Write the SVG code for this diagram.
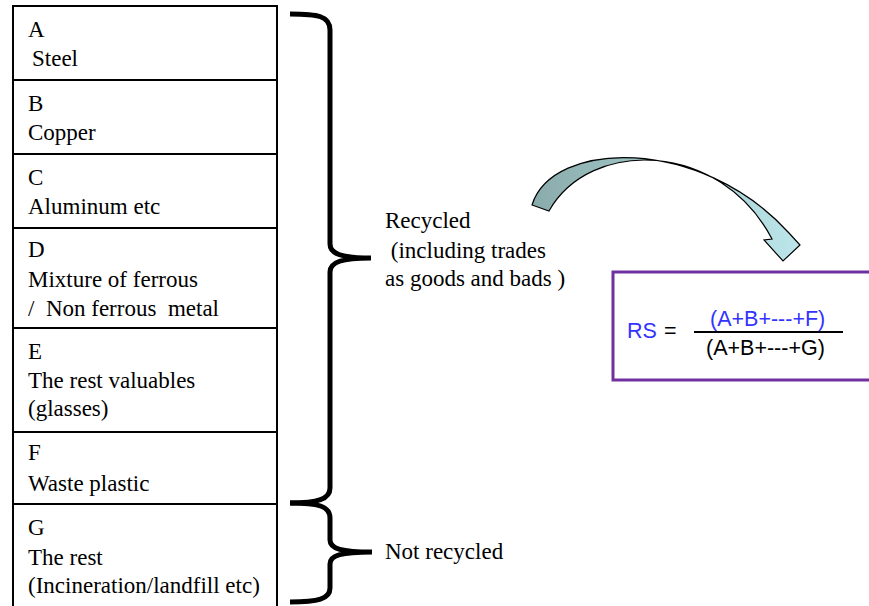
<svg xmlns="http://www.w3.org/2000/svg" width="869" height="606" viewBox="0 0 869 606">
<style>
.t{font-family:"Liberation Serif","Times New Roman",serif;font-size:23px;fill:#000;white-space:pre}
.f{font-family:"Liberation Sans",Arial,sans-serif;font-size:21.5px}
.ln{stroke:#000;stroke-width:2;fill:none}
.br{stroke:#000;stroke-width:5;fill:none;stroke-linecap:butt}
</style>
<defs>
<linearGradient id="ag" gradientUnits="userSpaceOnUse" x1="532" y1="0" x2="800" y2="0">
<stop offset="0" stop-color="#8aabab"/>
<stop offset="1" stop-color="#bce6eb"/>
</linearGradient>
</defs>
<rect width="869" height="606" fill="#fff"/>
<g id="table">
<line class="ln" x1="13" y1="6" x2="13" y2="606"/>
<line class="ln" x1="277" y1="6" x2="277" y2="606"/>
<line class="ln" x1="12" y1="6" x2="278" y2="6"/>
<line class="ln" x1="12" y1="80" x2="278" y2="80"/>
<line class="ln" x1="12" y1="154" x2="278" y2="154"/>
<line class="ln" x1="12" y1="228" x2="278" y2="228"/>
<line class="ln" x1="12" y1="328" x2="278" y2="328"/>
<line class="ln" x1="12" y1="432" x2="278" y2="432"/>
<line class="ln" x1="12" y1="504" x2="278" y2="504"/>
</g>
<g id="nodeA"><text class="t" x="28" y="37">A</text><text class="t" x="32" y="66">Steel</text></g>
<g id="nodeB"><text class="t" x="28" y="111">B</text><text class="t" x="28" y="140">Copper</text></g>
<g id="nodeC"><text class="t" x="28" y="185">C</text><text class="t" x="28" y="214">Aluminum etc</text></g>
<g id="nodeD"><text class="t" x="28" y="257">D</text><text class="t" x="28" y="287">Mixture of ferrous</text><text class="t" x="28" y="316">/  Non ferrous  metal</text></g>
<g id="nodeE"><text class="t" x="28" y="359">E</text><text class="t" x="28" y="388">The rest valuables</text><text class="t" x="28" y="416">(glasses)</text></g>
<g id="nodeF"><text class="t" x="28" y="460">F</text><text class="t" x="28" y="491">Waste plastic</text></g>
<g id="nodeG"><text class="t" x="28" y="535">G</text><text class="t" x="28" y="565">The rest</text><text class="t" x="28" y="593">(Incineration/landfill etc)</text></g>
<g id="connectors">
<path class="br" d="M290,14 C318,14 330,16 330,30 L330,244 C330,254 342,258 371,258 C342,258 330,262 330,272 L330,488 C330,499 318,503 290,503"/>
<path class="br" d="M290,503 C318,503 330,506 330,518 L330,540 C330,549 342,552 372,552 C342,552 330,555 330,564 L330,588 C330,599 318,602 290,602"/>
<path d="M532,205 C552,140 700,135 789,233 L800,245 L783,261 L764,240 L772,239 C720,140 590,138 549,211 Z" fill="url(#ag)" stroke="#000" stroke-width="1.2" stroke-linejoin="miter"/>
</g>
<g id="recycled"><text class="t" x="385" y="228">Recycled</text><text class="t" x="385" y="258"> (including trades</text><text class="t" x="385" y="286">as goods and bads )</text></g>
<g id="notrecycled"><text class="t" x="385" y="559">Not recycled</text></g>
<g id="formula">
<rect x="613" y="272" width="300" height="108" fill="#fff" stroke="#7030a0" stroke-width="3"/>
<text class="f" x="627" y="338" fill="#3333ff">RS</text>
<text class="f" x="664" y="338" fill="#000">=</text>
<line x1="694" y1="332" x2="843" y2="332" stroke="#000" stroke-width="2"/>
<text class="f" x="710" y="326" fill="#3333ff">(A+B+---+F)</text>
<text class="f" x="706" y="355" fill="#000">(A+B+---+G)</text>
</g>
</svg>
